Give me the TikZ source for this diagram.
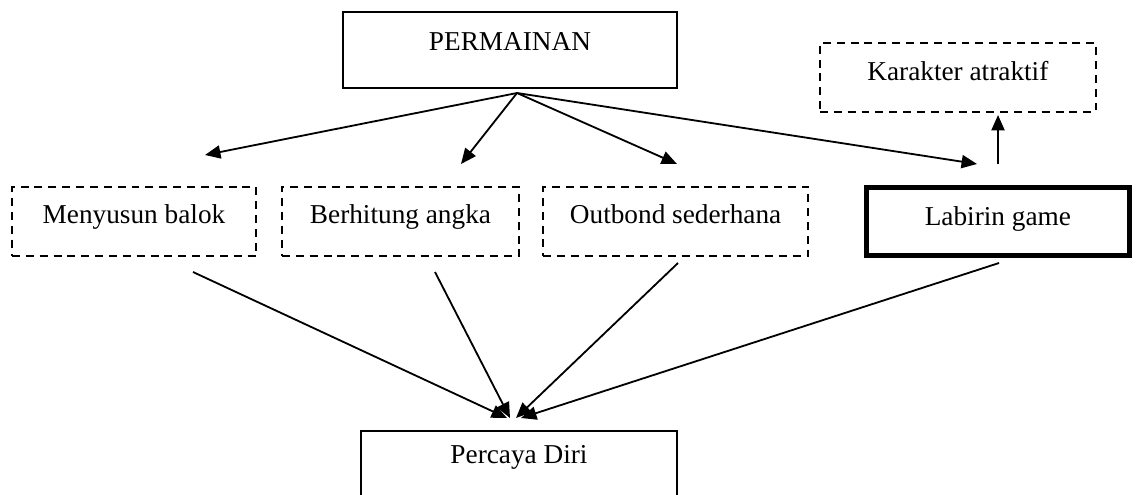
\documentclass[tikz,border=0pt]{standalone}
\usepackage{fontspec}
\setmainfont{Liberation Serif}
\usepackage{tikz}
\usetikzlibrary{arrows.meta,positioning}

\begin{document}
\begin{tikzpicture}[
  x=0.44pt, y=-0.44pt,
  font=\fontsize{12}{14}\selectfont,
  box/.style={rectangle, draw, line width=0.8pt, align=center, inner sep=0pt},
  dbox/.style={box, dash pattern=on 3.5pt off 2.6pt, text height=16pt, text depth=14.4pt},
  tbox/.style={box, line width=2.2pt, text height=16.3pt, text depth=13.2pt},
  arr/.style={-{Triangle[length=6.8pt,width=5.8pt]}, line width=0.8pt}
]
  \useasboundingbox (0,0) rectangle (1137,494);
  \clip (0,0) rectangle (1137,494);

  \node[box, minimum width=147pt, text height=16.7pt, text depth=16.7pt] (perm) at (510,50) {PERMAINAN};

  \node[dbox, minimum width=107.4pt] (menyusun) at (134,221.5) {Menyusun balok};
  \node[dbox, minimum width=104.3pt, right=10.6pt of menyusun] (berhitung) {Berhitung angka};
  \node[dbox, minimum width=116.6pt, right=9.8pt of berhitung] (outbond) {Outbond sederhana};
  \node[tbox, minimum width=116pt, right=24pt of outbond] (labirin) {Labirin game};
  \node[dbox, minimum width=121.4pt, text height=16.7pt, text depth=13.7pt,
        above=32pt of labirin, xshift=-17.6pt] (karakter) {Karakter atraktif};

  \node[box, anchor=north, minimum width=139pt,
        text height=14.5pt, text depth=30pt] (percaya) at (519,430) {Percaya Diri};

  % ujung panah bebas
  \coordinate (fork) at (517,93);
  \coordinate (t1) at (205,155);
  \coordinate (t2) at (461,164);
  \coordinate (t3) at (677,164);
  \coordinate (t4) at (977,164);
  \coordinate (k0) at (998,164);
  \coordinate (k1) at (998,115);

  \coordinate (s1) at (193,272);
  \coordinate (s2) at (435,272);
  \coordinate (s3) at (678,263);
  \coordinate (s4) at (999,263);
  \coordinate (e1) at (507,418);
  \coordinate (e2) at (510,418);
  \coordinate (e3) at (516,418);
  \coordinate (e4) at (521,418);

  \draw[arr] (fork) -- (t1);
  \draw[arr] (fork) -- (t2);
  \draw[arr] (fork) -- (t3);
  \draw[arr] (fork) -- (t4);
  \draw[arr] (k0) -- (k1);

  \draw[arr] (s1) -- (e1);
  \draw[arr] (s2) -- (e2);
  \draw[arr] (s3) -- (e3);
  \draw[arr] (s4) -- (e4);
\end{tikzpicture}
\end{document}
